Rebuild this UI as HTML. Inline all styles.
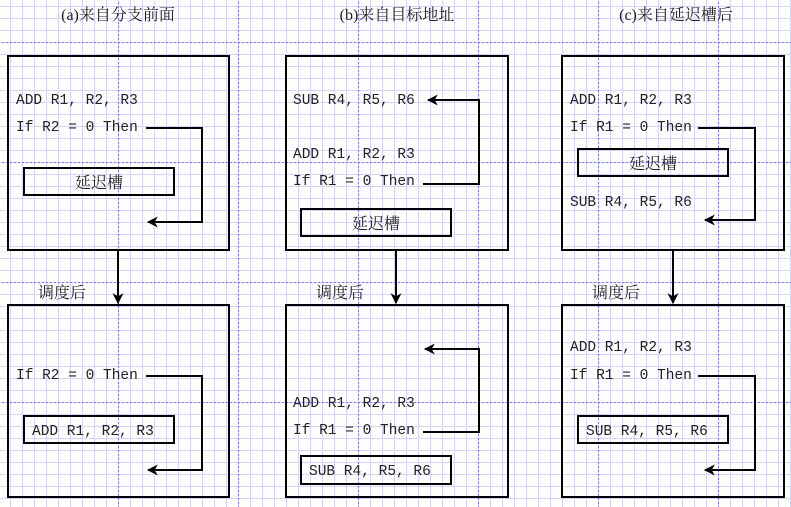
<!DOCTYPE html>
<html><head><meta charset="utf-8"><style>
html,body{margin:0;padding:0;background:#fff}
svg{display:block}
text{font-family:"Liberation Mono","Noto Serif CJK SC",monospace;font-size:14.5px;fill:#222}
.cj{font-family:"Liberation Serif","Noto Serif CJK SC",serif;font-size:16px}
</style></head><body>
<svg width="791" height="507" viewBox="0 0 791 507" xmlns="http://www.w3.org/2000/svg">
<defs>
<pattern id="mi" x="10" y="6" width="12" height="12" patternUnits="userSpaceOnUse">
<rect x="0" y="0" width="12" height="1" fill="#d4d4f6"/>
<rect x="0" y="0" width="1" height="12" fill="#d4d4f6"/>
</pattern>
<pattern id="ma" x="118" y="42" width="120" height="120" patternUnits="userSpaceOnUse">
<path d="M0 0.5H120M0.5 0V120" stroke="#7a7aea" stroke-width="1" stroke-dasharray="2 2" fill="none"/>
</pattern>
<marker id="ah" viewBox="0 0 10 10" refX="9" refY="5" markerWidth="12" markerHeight="11" orient="auto" markerUnits="userSpaceOnUse">
<path d="M0 0L10 5L0 10L3 5z" fill="#000"/>
</marker>
</defs>
<rect width="791" height="507" fill="url(#mi)"/>
<rect width="791" height="507" fill="url(#ma)"/>

<g fill="none" stroke="#000" stroke-width="2">
<rect x="8" y="56" width="221" height="194" fill="none"/>
<rect x="8" y="305" width="221" height="192"/>
<rect x="286" y="56" width="222" height="194"/>
<rect x="286" y="305" width="222" height="192"/>
<rect x="562" y="56" width="222" height="194"/>
<rect x="562" y="305" width="222" height="192"/>
<rect x="24" y="168" width="150" height="27"/>
<rect x="24" y="416" width="150" height="27"/>
<rect x="301" y="209" width="150" height="27"/>
<rect x="301" y="456" width="150" height="28"/>
<rect x="578" y="149" width="150" height="27"/>
<rect x="578" y="416" width="150" height="27"/>
<path d="M118 250V303" marker-end="url(#ah)"/>
<path d="M396 250V303" marker-end="url(#ah)"/>
<path d="M673 250V303" marker-end="url(#ah)"/>
<path d="M146 128H202V222H148" marker-end="url(#ah)"/>
<path d="M146 376H202V470H148" marker-end="url(#ah)"/>
<path d="M423 184H479V100H428" marker-end="url(#ah)"/>
<path d="M423 432H479V349H425" marker-end="url(#ah)"/>
<path d="M698 128H755V220H705" marker-end="url(#ah)"/>
<path d="M698 376H755V470H705" marker-end="url(#ah)"/>
</g>

<text class="cj" x="118" y="20" text-anchor="middle">(a)来自分支前面</text>
<text class="cj" x="397" y="20" text-anchor="middle">(b)来自目标地址</text>
<text class="cj" x="676" y="20" text-anchor="middle">(c)来自延迟槽后</text>
<text class="cj" x="38" y="298">调度后</text>
<text class="cj" x="316" y="298">调度后</text>
<text class="cj" x="592" y="298">调度后</text>

<text x="16" y="104">ADD R1, R2, R3</text>
<text x="16" y="131">If R2 = 0 Then</text>
<text class="cj" x="99" y="188" text-anchor="middle">延迟槽</text>
<text x="16" y="379">If R2 = 0 Then</text>
<text x="32" y="435">ADD R1, R2, R3</text>

<text x="293" y="104">SUB R4, R5, R6</text>
<text x="293" y="158">ADD R1, R2, R3</text>
<text x="293" y="185">If R1 = 0 Then</text>
<text class="cj" x="376" y="229" text-anchor="middle">延迟槽</text>
<text x="293" y="407">ADD R1, R2, R3</text>
<text x="293" y="434">If R1 = 0 Then</text>
<text x="309" y="475">SUB R4, R5, R6</text>

<text x="570" y="104">ADD R1, R2, R3</text>
<text x="570" y="131">If R1 = 0 Then</text>
<text class="cj" x="653" y="169" text-anchor="middle">延迟槽</text>
<text x="570" y="206">SUB R4, R5, R6</text>
<text x="570" y="351">ADD R1, R2, R3</text>
<text x="570" y="379">If R1 = 0 Then</text>
<text x="586" y="435">SUB R4, R5, R6</text>
</svg>
</body></html>
